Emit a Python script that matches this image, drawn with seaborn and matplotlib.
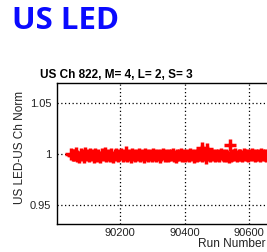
import matplotlib
matplotlib.use("Agg")
import matplotlib.pyplot as plt
import seaborn as sns
import pandas as pd

page_title = "US LED"
plot_title = "US Ch 822, M= 4, L= 2, S= 3"
x_label = "Run Number"
y_label = "US LED-US Ch Norm"
x_ticks = [90200, 90400, 90600]
y_ticks = [0.95, 1.0, 1.05]
y_tick_labels = ["0.95", "1", "1.05"]

runs = [
    90048, 90053, 90058, 90063, 90068, 90073, 90078, 90083, 90088, 90093,
    90098, 90103, 90108, 90113, 90118, 90123, 90128, 90133, 90138, 90143,
    90148, 90153, 90158, 90163, 90168, 90173, 90178, 90183, 90188, 90193,
    90198, 90203, 90208, 90213, 90218, 90223, 90228, 90233, 90238, 90243,
    90248, 90253, 90258, 90263, 90268, 90273, 90278, 90283, 90288, 90293,
    90298, 90303, 90308, 90313, 90318, 90323, 90328, 90333, 90338, 90343,
    90348, 90353, 90358, 90363, 90368, 90373, 90378, 90383, 90388, 90393,
    90398, 90403, 90408, 90413, 90418, 90423, 90428, 90433, 90438, 90443,
    90448, 90453, 90458, 90463, 90468, 90473, 90478, 90483, 90488, 90493,
    90498, 90503, 90508, 90513, 90518, 90523, 90528, 90533, 90538, 90543,
    90548, 90553, 90558, 90563, 90568, 90573, 90578, 90583, 90588, 90593,
    90598, 90603, 90608, 90613, 90618, 90623, 90628, 90633, 90638, 90643,
    90648, 90653, 90658, 90663,
    90455, 90455, 90470, 90470, 90541,
]
ratios = [
    1.0000, 0.9990, 0.9995, 1.0010, 0.9985, 0.9975, 1.0005, 0.9990, 0.9970, 1.0010,
    0.9995, 0.9980, 1.0000, 0.9990, 0.9975, 1.0005, 0.9985, 0.9995, 0.9970, 1.0000,
    0.9990, 1.0010, 0.9980, 0.9995, 0.9985, 1.0000, 0.9975, 0.9995, 1.0005, 0.9985,
    0.9990, 1.0000, 0.9980, 0.9995, 1.0015, 0.9985, 0.9990, 0.9975, 1.0000, 0.9990,
    0.9985, 0.9995, 1.0005, 0.9980, 0.9990, 0.9975, 1.0000, 0.9990, 0.9985, 0.9995,
    0.9980, 1.0000, 0.9990, 0.9985, 0.9995, 0.9975, 0.9990, 1.0005, 0.9985, 0.9990,
    0.9980, 0.9995, 0.9990, 1.0000, 0.9985, 0.9975, 0.9995, 0.9990, 1.0005, 0.9985,
    0.9990, 0.9980, 0.9995, 0.9985, 1.0000, 0.9990, 0.9975, 0.9995, 0.9985, 0.9990,
    0.9995, 0.9980, 0.9990, 1.0010, 0.9965, 0.9995, 0.9985, 1.0000, 0.9990, 0.9985,
    0.9995, 0.9990, 0.9985, 1.0000, 0.9990, 0.9980, 0.9990, 0.9980, 0.9975, 0.9978,
    0.9990, 0.9990, 1.0000, 0.9985, 0.9995, 0.9990, 0.9985, 1.0000, 0.9990, 0.9995,
    0.9985, 0.9990, 1.0000, 0.9990, 0.9985, 0.9995, 0.9990, 0.9985, 1.0000, 0.9990,
    0.9995, 0.9985, 0.9990, 0.9995,
    1.0060, 1.0030, 1.0045, 1.0020, 1.0093,
]

df = pd.DataFrame({"run": runs, "ratio": ratios})

sns.set_theme(style="white")
plt.rcParams["font.family"] = ["Liberation Sans", "DejaVu Sans"]

W, H = 267, 252
fig = plt.figure(figsize=(W / 100, H / 100), dpi=100)
ax = fig.add_axes([57 / W, (H - 224) / H, 243 / W, (224 - 83) / H])

sns.scatterplot(data=df, x="run", y="ratio", marker="+", color="#ff0000",
                s=65, linewidth=2.5, ax=ax, zorder=3)

ax.set_xlim(90004.7, 90758)
ax.set_ylim(0.9312, 1.0698)
ax.set_xticks(x_ticks)
ax.set_xticklabels([str(t) for t in x_ticks])
ax.set_yticks(y_ticks)
ax.set_yticklabels(y_tick_labels)
ax.set_xlabel("")
ax.set_ylabel("")
ax.grid(True, color="black", linestyle=(0, (1, 2)), linewidth=0.9)
ax.tick_params(axis="x", direction="in", length=4, width=0.8, labelsize=8,
               pad=3, colors="black", labelcolor="#222222")
ax.tick_params(axis="y", direction="out", length=3, width=0.8, labelsize=8,
               pad=1, colors="black", labelcolor="#222222")
for side in ["left", "bottom", "top"]:
    ax.spines[side].set_color("black")
    ax.spines[side].set_linewidth(1.0)
ax.spines["right"].set_visible(False)

fig.text(12 / W, 1 - 29 / H, page_title, color="#0a0aff", fontsize=22.5,
         fontweight="bold", family=["Open Sans", "DejaVu Sans"], va="baseline")
fig.text(40 / W, 1 - 78 / H, plot_title, color="black", fontsize=8.5,
         fontweight="bold", va="baseline")
fig.text(20 / W, 1 - 147 / H, y_label, color="#222222", fontsize=8.5,
         rotation=90, ha="center", va="center")
fig.text(198 / W, 1 - 247 / H, x_label, color="#222222", fontsize=8.6,
         ha="left", va="baseline")

fig.savefig("out.png", dpi=100)
